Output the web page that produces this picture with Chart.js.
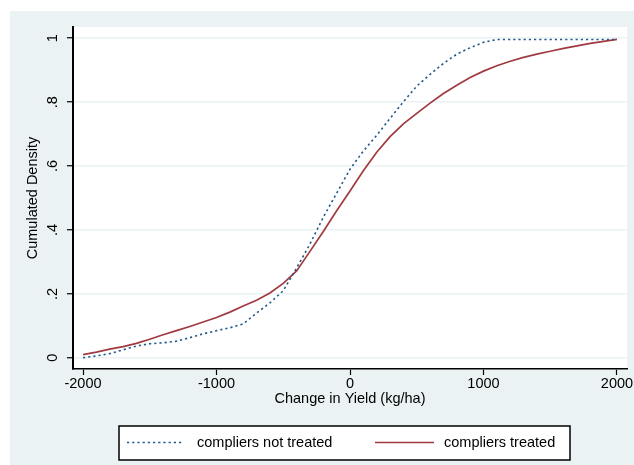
<!DOCTYPE html>
<html>
<head>
<meta charset="utf-8">
<title>Cumulated density of yield change</title>
<script src="https://cdn.jsdelivr.net/npm/chart.js@4.4.1/dist/chart.umd.min.js"></script>
<style>
  html, body { margin: 0; padding: 0; background: #fff; }
  #wrap { width: 634px; height: 465px; }
</style>
</head>
<body>
<div id="wrap"><canvas id="cdf" width="634" height="465"></canvas></div>
<script>
// change in yield (kg/ha), one point every 100
const yieldChange = [
  -2000, -1900, -1800, -1700, -1600, -1500, -1400, -1300, -1200, -1100,
  -1000, -900, -800, -700, -600, -500, -400, -300, -200, -100,
  0, 100, 200, 300, 400, 500, 600, 700, 800, 900,
  1000, 1100, 1200, 1300, 1400, 1500, 1600, 1700, 1800, 1900, 2000
];

const notTreated = [
  0.000, 0.006, 0.013, 0.025, 0.037, 0.044, 0.047, 0.052, 0.063, 0.075,
  0.085, 0.094, 0.106, 0.140, 0.172, 0.210, 0.281, 0.356, 0.440, 0.515,
  0.590, 0.647, 0.696, 0.749, 0.801, 0.850, 0.887, 0.921, 0.950, 0.970,
  0.987, 0.996, 0.996, 0.996, 0.996, 0.996, 0.996, 0.996, 0.996, 0.996, 0.996
];

const treated = [
  0.010, 0.018, 0.027, 0.035, 0.045, 0.058, 0.072, 0.085, 0.098, 0.112,
  0.126, 0.143, 0.162, 0.180, 0.203, 0.233, 0.272, 0.333, 0.395, 0.460,
  0.522, 0.585, 0.643, 0.692, 0.732, 0.765, 0.797, 0.827, 0.853, 0.877,
  0.897, 0.914, 0.928, 0.940, 0.950, 0.959, 0.968, 0.976, 0.984, 0.990, 0.996
];

const xTicks = [-2000, -1000, 0, 1000, 2000];
const yTicks = [0, 0.2, 0.4, 0.6, 0.8, 1];
const yTickLabels = ['0', '.2', '.4', '.6', '.8', '1'];
const seriesNames = ['compliers not treated', 'compliers treated'];

const FONT = { family: '"Liberation Sans", Arial, Helvetica, sans-serif', size: 14.5 };
const FONT_CSS = '14.5px "Liberation Sans", Arial, Helvetica, sans-serif';
const BG = '#eaf2f3';
const BLUE = '#23598b';
const RED = '#a03a40';

const toPoints = ys => yieldChange.map((x, i) => ({ x: x, y: ys[i] }));

// graph region, white plot region
const backdrop = {
  id: 'backdrop',
  beforeDraw(chart) {
    const { ctx, chartArea: a } = chart;
    ctx.save();
    ctx.fillStyle = '#fff';
    ctx.fillRect(0, 0, chart.width, chart.height);
    ctx.fillStyle = BG;
    ctx.fillRect(10, 11, chart.width - 10, chart.height - 11);
    ctx.fillStyle = '#fff';
    ctx.fillRect(a.left, a.top, a.right - a.left, a.bottom - a.top);
    ctx.restore();
  }
};

// vertical y labels and the boxed legend underneath
const extras = {
  id: 'extras',
  afterDraw(chart) {
    const { ctx } = chart;
    const y = chart.scales.y;
    ctx.save();
    ctx.fillStyle = '#000';
    ctx.font = FONT_CSS;
    ctx.textAlign = 'center';
    ctx.textBaseline = 'alphabetic';
    yTicks.forEach((v, i) => {
      ctx.save();
      ctx.translate(57, y.getPixelForValue(v));
      ctx.rotate(-Math.PI / 2);
      ctx.fillText(yTickLabels[i], 0, 0);
      ctx.restore();
    });

    // legend box
    ctx.fillStyle = '#fff';
    ctx.fillRect(119, 426, 451, 34);
    ctx.strokeStyle = '#000';
    ctx.lineWidth = 1.5;
    ctx.strokeRect(119, 426, 451, 34);

    const rowY = 442.5;
    const items = [
      { x0: 127, x1: 184, tx: 197 },
      { x0: 375, x1: 434, tx: 444 }
    ];
    chart.data.datasets.forEach((ds, i) => {
      const it = items[i];
      ctx.beginPath();
      ctx.strokeStyle = ds.borderColor;
      ctx.lineWidth = ds.borderWidth;
      ctx.setLineDash(ds.borderDash || []);
      ctx.moveTo(it.x0, rowY);
      ctx.lineTo(it.x1, rowY);
      ctx.stroke();
      ctx.setLineDash([]);
      ctx.fillStyle = '#000';
      ctx.textAlign = 'left';
      ctx.textBaseline = 'middle';
      ctx.fillText(ds.label, it.tx, rowY + 0.5);
    });
    ctx.restore();
  }
};

new Chart(document.getElementById('cdf'), {
  type: 'line',
  data: {
    datasets: [
      {
        label: seriesNames[0],
        data: toPoints(notTreated),
        borderColor: BLUE,
        borderWidth: 1.6,
        borderDash: [2.2, 3],
        pointRadius: 0,
        tension: 0,
        fill: false
      },
      {
        label: seriesNames[1],
        data: toPoints(treated),
        borderColor: RED,
        borderWidth: 1.7,
        pointRadius: 0,
        tension: 0,
        fill: false
      }
    ]
  },
  options: {
    responsive: false,
    animation: false,
    devicePixelRatio: 1,
    layout: { padding: { top: 27, right: 7, bottom: 56.5, left: 0 } },
    plugins: {
      legend: { display: false },
      tooltip: { enabled: false }
    },
    scales: {
      x: {
        type: 'linear',
        min: -2075,
        max: 2075,
        afterBuildTicks: s => { s.ticks = xTicks.map(v => ({ value: v })); },
        afterFit: s => { s.height = 39.5; },
        grid: {
          drawOnChartArea: false,
          drawTicks: true,
          tickLength: 6,
          tickColor: '#000',
          tickWidth: 1.2
        },
        border: { color: '#000', width: 1.6 },
        ticks: {
          font: FONT,
          color: '#000',
          padding: 0,
          maxRotation: 0,
          autoSkip: false,
          callback: v => String(v)
        },
        title: {
          display: true,
          text: 'Change in Yield (kg/ha)',
          font: FONT,
          color: '#000',
          padding: { top: 0, bottom: 1 }
        }
      },
      y: {
        type: 'linear',
        min: -0.035,
        max: 1.035,
        afterBuildTicks: s => { s.ticks = yTicks.map(v => ({ value: v })); },
        afterFit: s => { s.width = 73; },
        grid: {
          color: BG,
          lineWidth: 1.5,
          drawTicks: true,
          tickLength: 6,
          tickColor: '#000',
          tickWidth: 1.2
        },
        border: { color: '#000', width: 2 },
        ticks: { display: false },
        title: {
          display: true,
          text: 'Cumulated Density',
          font: FONT,
          color: '#000',
          padding: { top: 24, bottom: 0 }
        }
      }
    }
  },
  plugins: [backdrop, extras]
});
</script>
</body>
</html>
